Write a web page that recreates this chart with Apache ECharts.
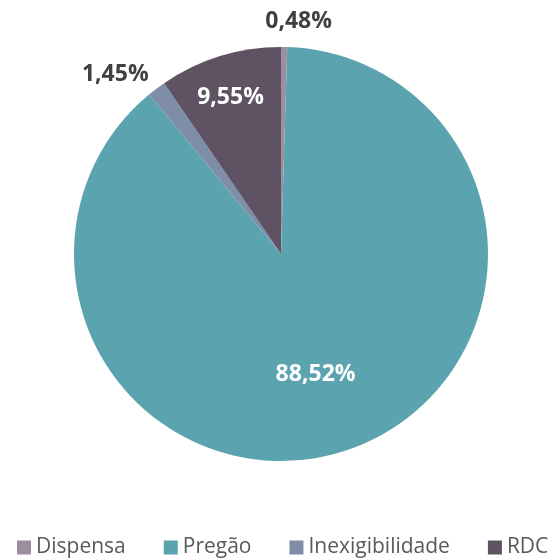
<!DOCTYPE html>
<html><head><meta charset="utf-8">
<script src="https://cdn.jsdelivr.net/npm/echarts@6/dist/echarts.min.js"></script>
<style>html,body{margin:0;padding:0;background:#fff}#c{width:554px;height:560px}</style>
</head><body><div id="c"></div>
<script>
var categories = ['Dispensa', 'Pregão', 'Inexigibilidade', 'RDC'];
var values = [0.48, 88.52, 1.45, 9.55];
var colors = ['#9e8fa0', '#5ba3ae', '#7e8ea8', '#5e5263'];
var labelInside = [false, true, false, true];
var labelShift = [[-24, -18], [0, 20], [2, -8], [-19, -55]];

var chart = echarts.init(document.getElementById('c'));
var data = categories.map(function (c, i) {
  return {
    name: c, value: values[i],
    itemStyle: { color: colors[i] },
    label: labelInside[i]
      ? { position: 'inside', color: '#ffffff' }
      : { position: 'outside', color: '#404040' },
    labelLine: { show: false, length: 8, length2: 0 }
  };
});
chart.setOption({
  animation: false,
  textStyle: { fontFamily: 'Open Sans' },
  legend: {
    bottom: 2, left: 17, right: 0, padding: 0,
    itemWidth: 14, itemHeight: 14, itemGap: 38,
    icon: 'rect',
    textStyle: { fontSize: 21, color: '#595959', fontFamily: 'Open Sans' },
    data: categories
  },
  series: [{
    type: 'pie',
    center: [281, 254],
    radius: 207,
    startAngle: 90,
    clockwise: true,
    avoidLabelOverlap: false,
    data: data,
    itemStyle: { borderColor: '#ffffff', borderWidth: 0 },
    label: {
      show: true,
      fontSize: 23, fontWeight: 'bold', fontFamily: 'Open Sans',
      formatter: function (p) { return p.value.toFixed(2).replace('.', ',') + '%'; }
    },
    labelLayout: function (p) {
      var s = labelShift[p.dataIndex];
      return { dx: s[0], dy: s[1] };
    }
  }]
});
</script></body></html>
